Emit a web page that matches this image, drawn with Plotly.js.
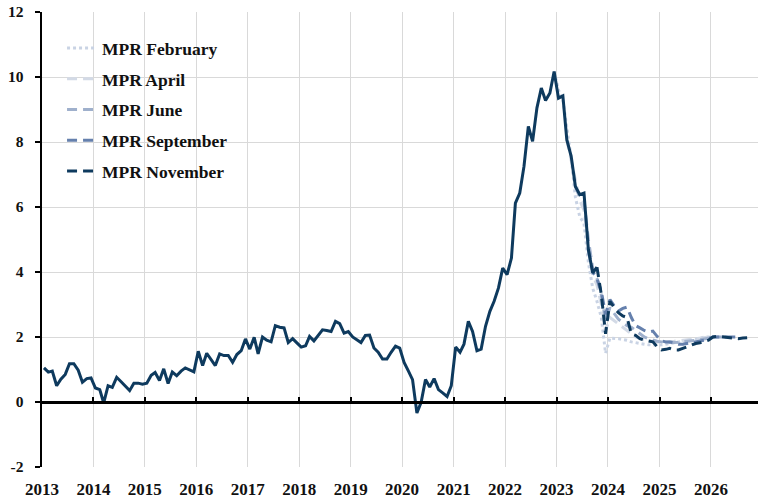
<!DOCTYPE html>
<html><head><meta charset="utf-8">
<script src="https://cdn.plot.ly/plotly-3.0.1.min.js"></script>
<style>html,body{margin:0;padding:0;background:#fff}#chart{width:759px;height:502px}</style>
</head><body><div id="chart"></div>
<script>
// Outcome (monthly, from Jan 2013)
const outcomeStart = '2013-01';
const outcome = [
  1.05, 0.92, 0.95, 0.50, 0.70, 0.85, 1.18, 1.18, 0.98, 0.61, 0.72, 0.74,
  0.43, 0.38, -0.03, 0.50, 0.45, 0.76, 0.63, 0.50, 0.35, 0.58, 0.58, 0.55,
  0.58, 0.82, 0.91, 0.66, 1.02, 0.57, 0.92, 0.81, 0.95, 1.05, 1.00, 0.93,
  1.56, 1.12, 1.50, 1.30, 1.12, 1.48, 1.43, 1.43, 1.22, 1.46, 1.58, 1.94,
  1.63, 1.99, 1.48, 2.00, 1.90, 1.85, 2.35, 2.30, 2.28, 1.83, 1.95, 1.82,
  1.69, 1.73, 2.02, 1.88, 2.05, 2.22, 2.20, 2.17, 2.48, 2.41, 2.12, 2.17,
  2.00, 1.92, 1.83, 2.05, 2.06, 1.66, 1.53, 1.32, 1.32, 1.53, 1.72, 1.66,
  1.22, 0.95, 0.69, -0.34, -0.01, 0.69, 0.46, 0.72, 0.38, 0.28, 0.17, 0.50,
  1.69, 1.53, 1.78, 2.48, 2.17, 1.58, 1.63, 2.33, 2.79, 3.10, 3.51, 4.12,
  3.92, 4.43, 6.12, 6.43, 7.25, 8.48, 8.02, 9.05, 9.66, 9.28, 9.51, 10.17,
  9.35, 9.42, 8.07, 7.56, 6.63, 6.38, 6.43, 4.69, 3.97, 4.15
];

// Forecasts by Monetary Policy Report
const febStart = '2022-12';
const febValues = [10.17, 9.6, 9.3, 8.4, 7.5, 6.3, 5.7, 5.5, 4.3, 3.5, 3.1, 2.6, 1.5,
  1.97, 1.97, 1.95, 1.92, 1.9, 1.85, 1.82, 1.8, 1.78, 1.76, 1.75, 1.75, 1.76, 1.78,
  1.8, 1.82, 1.84, 1.86, 1.88, 1.9, 1.93, 1.96, 2.0, 2.0, 2.0];
const aprStart = '2023-03';
const aprValues = [8.07, 7.4, 6.8, 6.2, 5.9, 4.8, 3.9, 3.6, 3.0, 2.2, 2.6, 2.5, 2.4,
  2.3, 2.2, 2.1, 2.0, 1.95, 1.9, 1.88, 1.86, 1.85, 1.85, 1.85, 1.86, 1.87, 1.88, 1.9,
  1.92, 1.94, 1.96, 1.98, 2.0, 2.0, 2.0, 2.0];
const junStart = '2023-05';
const junValues = [6.63, 6.3, 6.2, 5.0, 4.1, 3.8, 3.3, 2.5, 2.9, 2.7, 2.55, 2.45, 2.35,
  2.3, 2.2, 2.1, 2.0, 1.95, 1.9, 1.87, 1.85, 1.84, 1.83, 1.83, 1.84, 1.85, 1.86, 1.88,
  1.9, 1.92, 1.94, 1.96, 2.0, 2.0, 2.0, 2.0];
const sepStart = '2023-08';
const sepValues = [4.69, 4.0, 3.8, 3.4, 2.7, 3.15, 2.95, 2.8, 2.88, 2.92, 2.6, 2.35,
  2.28, 2.2, 2.15, 2.18, 2.02, 1.88, 1.85, 1.85, 1.82, 1.78, 1.78, 1.8, 1.82, 1.85,
  1.88, 1.9, 1.95, 2.0, 2.0, 2.0, 2.0, 1.98, 1.98, 2.0];
const novStart = '2023-10';
const novValues = [4.15, 3.3, 2.1, 3.1, 2.9, 2.75, 2.65, 2.6, 2.1, 2.05, 1.95, 1.9,
  1.88, 1.85, 1.7, 1.6, 1.62, 1.65, 1.6, 1.6, 1.65, 1.7, 1.75, 1.8, 1.82, 1.85, 1.9,
  2.0, 2.02, 2.01, 2.0, 1.98, 1.96, 1.95, 1.97, 1.98];

const seriesNames = ['MPR February', 'MPR April', 'MPR June', 'MPR September', 'MPR November'];
const years = ['2013','2014','2015','2016','2017','2018','2019','2020','2021','2022','2023','2024','2025','2026'];
const yTicks = [-2, 0, 2, 4, 6, 8, 10, 12];
const yTickText = ['-2', '0', '2', '4', '6', '8', '10', '12'];

function monthDates(start, n) {
  let [y, m] = start.split('-').map(Number);
  const out = [];
  for (let i = 0; i < n; i++) {
    out.push(y + '-' + String(m).padStart(2, '0') + '-15');
    m++; if (m > 12) { m = 1; y++; }
  }
  return out;
}

const serif = 'Liberation Serif, Times New Roman, serif';
const dashLong = '10px,6px';
const specs = [
  {name: seriesNames[0], start: febStart, vals: febValues, color: '#c9d3e4', dash: 'dot'},
  {name: seriesNames[1], start: aprStart, vals: aprValues, color: '#d3dae6', dash: dashLong},
  {name: seriesNames[2], start: junStart, vals: junValues, color: '#9fb0cc', dash: dashLong},
  {name: seriesNames[3], start: sepStart, vals: sepValues, color: '#6580ad', dash: dashLong},
  {name: seriesNames[4], start: novStart, vals: novValues, color: '#0e3a5e', dash: dashLong}
];

const traces = specs.map((s, i) => ({
  type: 'scatter', mode: 'lines', name: s.name, legendgroup: 'g' + i,
  x: monthDates(s.start, s.vals.length), y: s.vals,
  line: {color: s.color, width: 3, dash: s.dash}, hoverinfo: 'skip'
}));
traces.push({
  type: 'scatter', mode: 'lines', name: 'Outcome', showlegend: false,
  x: monthDates(outcomeStart, outcome.length), y: outcome,
  line: {color: '#0e3a5e', width: 3}, hoverinfo: 'skip'
});
traces.push({type: 'scatter', mode: 'lines', x: [], y: [], xaxis: 'x2', showlegend: false, hoverinfo: 'skip'});

const xr = ['2013-01-01', '2026-12-01'];
const layout = {
  width: 759, height: 502,
  margin: {l: 42, r: 1, t: 12, b: 35},
  paper_bgcolor: '#fff', plot_bgcolor: '#fff',
  font: {family: serif, color: '#111', size: 14, weight: 700},
  showlegend: true,
  legend: {x: 0.028, y: 0.96, xanchor: 'left', yanchor: 'top', bgcolor: 'rgba(0,0,0,0)',
    traceorder: 'grouped', tracegroupgap: 5,
    font: {family: serif, size: 17.5, color: '#111', weight: 700}},
  xaxis: {type: 'date', range: xr, tickvals: years.map(y => y + '-01-01'), ticktext: years,
    showgrid: true, gridcolor: '#d9d9d9', gridwidth: 1, zeroline: false, showline: false,
    ticks: '', ticklabelstandoff: 10,
    tickfont: {family: serif, size: 17, color: '#111', weight: 700}},
  xaxis2: {type: 'date', range: xr, overlaying: 'x', anchor: 'free', position: 1/7,
    tickvals: years.map(y => y + '-01-01'), showticklabels: false, showgrid: false,
    showline: true, linecolor: '#000', linewidth: 2.5,
    ticks: 'inside', ticklen: 4, tickwidth: 2, tickcolor: '#000'},
  yaxis: {range: [-2, 12], tickvals: yTicks, ticktext: yTickText, showgrid: true, gridcolor: '#d9d9d9', gridwidth: 1,
    zeroline: false, showline: true, linecolor: '#000', linewidth: 2.5,
    ticks: 'outside', ticklen: 5, tickwidth: 2, tickcolor: '#000', ticklabelstandoff: 8,
    tickfont: {family: serif, size: 15.5, color: '#111', weight: 700}}
};

Plotly.newPlot('chart', traces, layout, {staticPlot: true, displayModeBar: false});
</script>
</body></html>
